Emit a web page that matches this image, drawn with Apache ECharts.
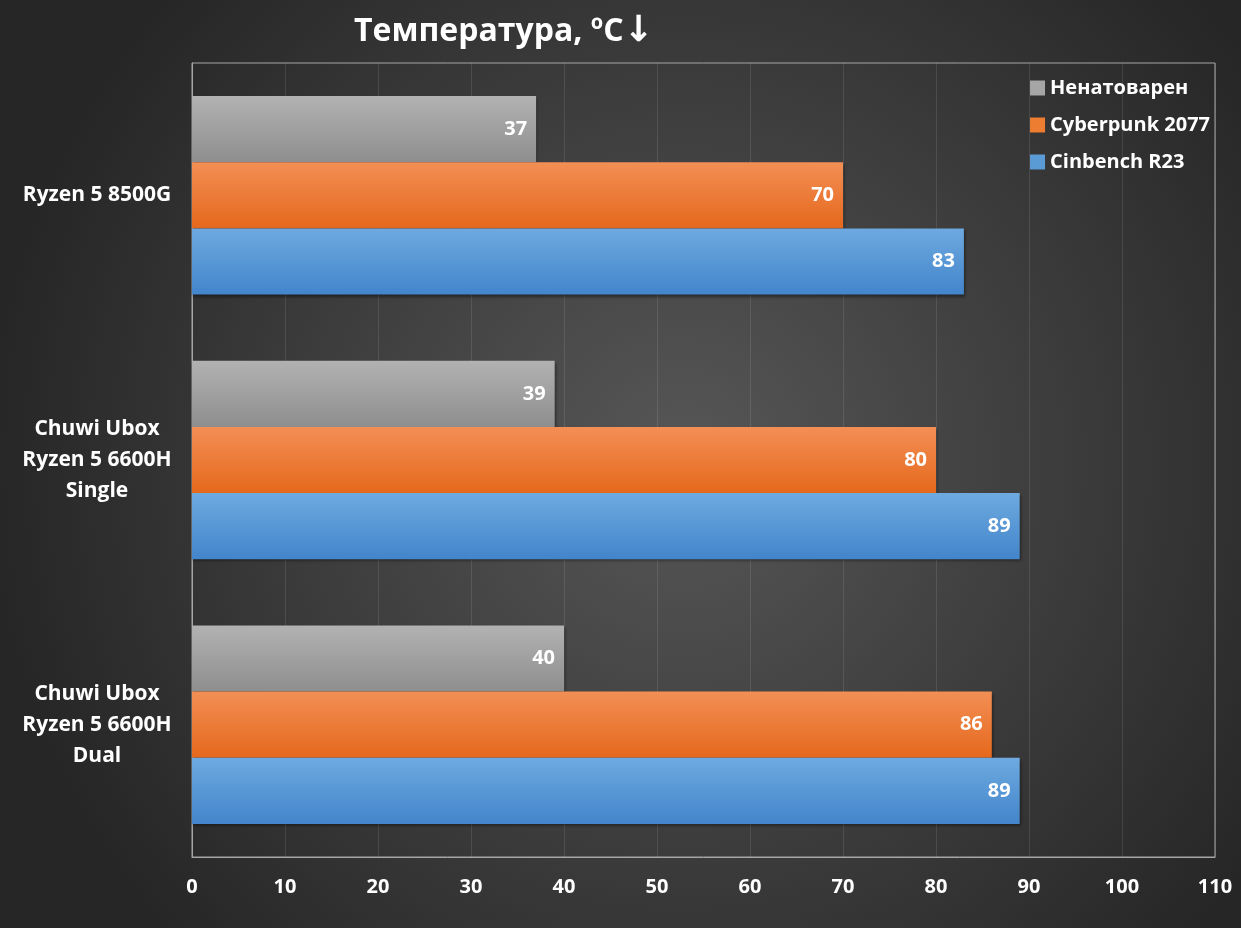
<!DOCTYPE html>
<html lang="ru">
<head>
  <meta charset="UTF-8">
  <title>Температура</title>
  <script src="https://cdn.jsdelivr.net/npm/echarts@6/dist/echarts.min.js"></script>
  <style>
    html, body { margin: 0; padding: 0; }
    #chart { width: 1241px; height: 928px; }
  </style>
</head>
<body>
  <div id="chart"></div>
  <script>
    var aCategories = ['Ryzen 5 8500G', 'Chuwi Ubox\nRyzen 5 6600H\nSingle', 'Chuwi Ubox\nRyzen 5 6600H\nDual'];
    var aIdle = [37, 39, 40];
    var aCyberpunk = [70, 80, 86];
    var aCinebench = [83, 89, 89];
    var aTicks = [0, 10, 20, 30, 40, 50, 60, 70, 80, 90, 100, 110];

    var sFont = '"Open Sans", "Noto Sans", sans-serif';

    function grad(top, bottom) {
      return new echarts.graphic.LinearGradient(0, 0, 0, 1, [
        { offset: 0, color: top },
        { offset: 1, color: bottom }
      ]);
    }

    function barSeries(name, data, cTop, cBottom) {
      return {
        name: name,
        type: 'bar',
        data: data,
        barGap: '0%',
        barCategoryGap: '25%',
        itemStyle: {
          color: grad(cTop, cBottom),
          shadowColor: 'rgba(0,0,0,0.45)',
          shadowBlur: 3,
          shadowOffsetX: 1,
          shadowOffsetY: 2
        },
        label: {
          show: true,
          position: 'insideRight',
          distance: 9,
          color: '#fff',
          fontFamily: sFont,
          fontWeight: 'bold',
          fontSize: 20
        }
      };
    }

    var oChart = echarts.init(document.getElementById('chart'));
    var option = {
      backgroundColor: new echarts.graphic.RadialGradient(0.55, 0.5, 0.75, [
        { offset: 0, color: '#575757' },
        { offset: 1, color: '#262626' }
      ]),
      title: {
        text: 'Температура, ºC{a|↓}',
        left: 349,
        top: 9,
        textStyle: {
          color: '#fff', fontFamily: sFont, fontWeight: 'bold', fontSize: 32,
          rich: {
            a: { color: '#fff', fontFamily: '"DejaVu Sans", sans-serif', fontWeight: 'bold', fontSize: 36 }
          }
        }
      },
      legend: {
        orient: 'vertical',
        right: 26,
        top: 73,
        itemWidth: 15,
        itemHeight: 15,
        itemGap: 17,
        icon: 'rect',
        textStyle: { color: '#fff', fontFamily: sFont, fontWeight: 'bold', fontSize: 20 },
        data: [
          { name: 'Ненатоварен', itemStyle: { color: '#a6a6a6' } },
          { name: 'Cyberpunk 2077', itemStyle: { color: '#ed7d31' } },
          { name: 'Cinbench R23', itemStyle: { color: '#5b9bd5' } }
        ]
      },
      grid: {
        left: 192,
        right: 26,
        top: 63,
        bottom: 71,
        show: true,
        borderColor: '#a6a6a6',
        borderWidth: 1
      },
      xAxis: {
        type: 'value',
        min: aTicks[0],
        max: aTicks[aTicks.length - 1],
        interval: 10,
        axisLine: { show: true, lineStyle: { color: '#a6a6a6' } },
        axisTick: { show: false },
        splitLine: { lineStyle: { color: 'rgba(255,255,255,0.1)' } },
        axisLabel: { color: '#fff', fontFamily: sFont, fontWeight: 'bold', fontSize: 20, margin: 20 }
      },
      yAxis: {
        type: 'category',
        inverse: true,
        data: aCategories,
        axisLine: { show: true, lineStyle: { color: '#a6a6a6' } },
        axisTick: { show: false },
        axisLabel: {
          color: '#fff',
          fontFamily: sFont,
          fontWeight: 'bold',
          fontSize: 21,
          lineHeight: 31,
          align: 'center',
          margin: 95
        }
      },
      series: [
        barSeries('Ненатоварен', aIdle, '#b2b2b2', '#8e8e8e'),
        barSeries('Cyberpunk 2077', aCyberpunk, '#f38f55', '#e5681c'),
        barSeries('Cinbench R23', aCinebench, '#6eaae0', '#4385cb')
      ]
    };
    oChart.setOption(option);
  </script>
</body>
</html>
